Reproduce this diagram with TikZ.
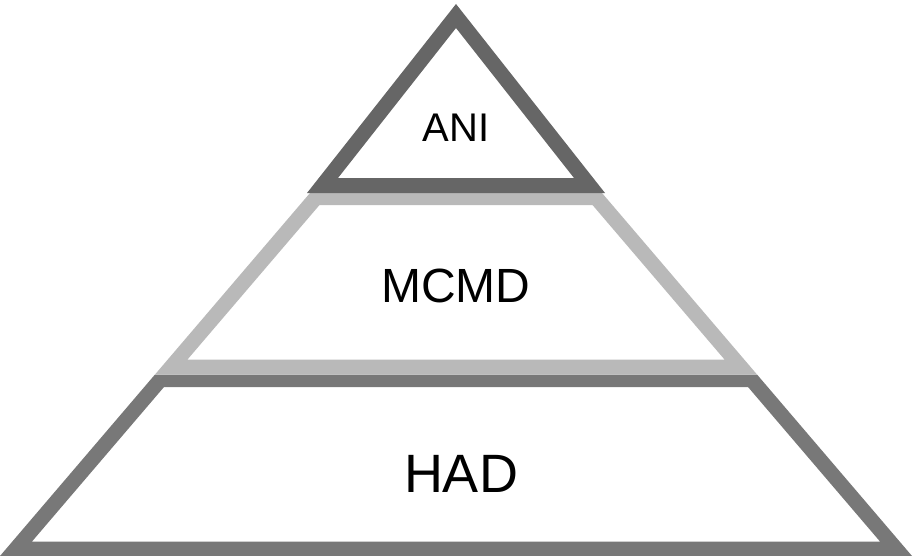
\documentclass[tikz,border=0pt]{standalone}
\usepackage{fontspec}
\setmainfont{Liberation Sans}
\definecolor{topgray}{HTML}{666666}
\definecolor{midgray}{HTML}{B9B9B9}
\definecolor{botgray}{HTML}{787878}
\begin{document}
\begin{tikzpicture}[x=1pt,y=-1pt,
  band/.style={even odd rule},
  lbl/.style={anchor=base,inner sep=0pt,text=black}]
\useasboundingbox[fill=white] (0,0) rectangle (917,556);
% bottom layer
\fill[botgray,band] (0,556) -- (912,556) -- (757,374.5) -- (155,374.5) -- cycle
  (32,541.5) -- (880,541.5) -- (748,387) -- (164,387) -- cycle;
% middle layer
\fill[midgray,band] (155,374.5) -- (757,374.5) -- (602,193) -- (310,193) -- cycle
  (187.5,359.5) -- (724.5,359.5) -- (592.5,205) -- (319.5,205) -- cycle;
% top layer
\fill[topgray,band] (307,193) -- (605,193) -- (456,4) -- cycle
  (338,178) -- (574,178) -- (456,28) -- cycle;
\node[lbl,font=\fontsize{40}{40}\selectfont] (ani) at (456,142) {ANI};
\node[lbl,font=\fontsize{48}{48}\selectfont] (mcmd) at (456,302) {MCMD};
\node[lbl,font=\fontsize{54}{54}\selectfont] (had) at (461,492) {HAD};
\end{tikzpicture}
\end{document}
